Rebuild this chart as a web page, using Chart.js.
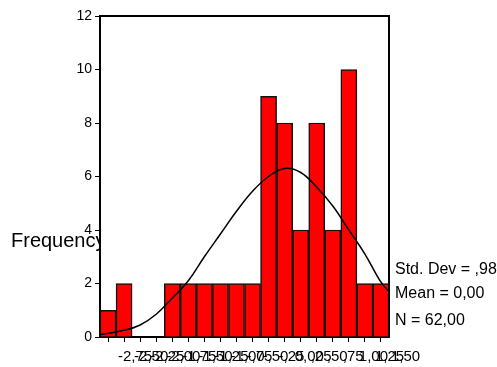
<!DOCTYPE html>
<html>
<head>
<meta charset="utf-8">
<script src="https://cdn.jsdelivr.net/npm/chart.js@4.4.0/dist/chart.umd.min.js"></script>
<style>
  html, body { margin: 0; padding: 0; background: #fff; }
</style>
</head>
<body>
<canvas id="histogram" width="497" height="367"></canvas>
<script>
// Histogram data (bin midpoints as printed by SPSS)
var binLabels = ["-2,75", "-2,50", "-2,25", "-2,00", "-1,75", "-1,50", "-1,25", "-1,00", "-,75",
                 "-,50", "-,25", "0,00", ",25", ",50", ",75", "1,00", "1,25", "1,50"];
var frequencies = [1, 2, 0, 0, 2, 2, 2, 2, 2, 2, 9, 8, 4, 8, 4, 10, 2, 2];

// Normal curve
var curveX = [-2.875, -2.5, -2.25, -2.0, -1.75, -1.5, -1.25, -1.0, -0.75, -0.5,
              -0.25, 0.0, 0.25, 0.5, 0.75, 1.0, 1.25, 1.5, 1.625];
var curveY = [0.08, 0.25, 0.45, 0.85, 1.45, 2.1, 3.0, 3.85, 4.7, 5.45,
              6.0, 6.3, 6.15, 5.6, 4.9, 4.0, 3.1, 2.05, 1.7];

var yAxisTitle = "Frequency";
var statLines = ["Std. Dev = ,98", "Mean = 0,00", "N = 62,00"];

var fontFamily = '"Liberation Sans", Arial, sans-serif';

// extra SPSS bits: box, axis title, stats
var spssExtras = {
    id: "spssExtras",
    afterDraw: function (chart) {
        var ctx = chart.ctx;
        var a = chart.chartArea;
        ctx.save();
        ctx.strokeStyle = "#000";
        ctx.lineWidth = 2;
        ctx.beginPath();
        ctx.moveTo(a.left, a.top);
        ctx.lineTo(a.right, a.top);
        ctx.lineTo(a.right, a.bottom);
        ctx.stroke();

        ctx.fillStyle = "#000";
        ctx.textAlign = "left";
        ctx.textBaseline = "alphabetic";
        ctx.font = "16px " + fontFamily;
        var offs = [63, 39, 12];
        statLines.forEach(function (t, i) {
            ctx.fillText(t, a.right + 6, a.bottom - offs[i]);
        });

        // title is hidden behind the plot frame
        ctx.beginPath();
        ctx.rect(0, 0, a.left - 1, chart.height);
        ctx.clip();
        ctx.font = "20px " + fontFamily;
        ctx.fillText(yAxisTitle, 11, 247);
        ctx.restore();
    }
};

var curvePoints = curveX.map(function (x, i) {
    return { x: x, y: curveY[i] };
});

var chartData = {
    labels: binLabels,
    datasets: [
        {
            type: "line",
            data: curvePoints,
            xAxisID: "xc",
            borderColor: "#000",
            borderWidth: 1.5,
            pointRadius: 0,
            tension: 0.4,
            fill: false,
            order: 0
        },
        {
            type: "bar",
            data: frequencies,
            xAxisID: "x",
            backgroundColor: "#FF0000",
            borderColor: "#111",
            borderWidth: 1.5,
            grouped: false,
            barPercentage: 1,
            categoryPercentage: 1,
            order: 1
        }
    ]
};

var chartOptions = {
    responsive: false,
    animation: false,
    layout: { padding: { top: 16, right: 108, left: 0, bottom: 0 } },
    plugins: { legend: { display: false }, tooltip: { enabled: false } },
    scales: {
        x: {
            type: "category",
            offset: true,
            grid: { offset: false, drawOnChartArea: false, drawTicks: true, tickLength: 5, color: "#000" },
            border: { color: "#000", width: 2 },
            ticks: {
                autoSkip: false, maxRotation: 0, minRotation: 0,
                align: "start", labelOffset: 10, padding: 6,
                color: "#000", font: { family: fontFamily, size: 15 }
            },
            afterFit: function (s) { s.height = 30; }
        },
        xc: { type: "linear", min: -2.875, max: 1.625, offset: false, display: false },
        y: {
            min: 0, max: 12,
            grid: { drawOnChartArea: false, tickLength: 5, color: "#000" },
            border: { color: "#000", width: 2 },
            ticks: { stepSize: 2, padding: 3, color: "#000", font: { family: fontFamily, size: 14 } },
            afterFit: function (s) { s.width = 100; }
        }
    }
};

var ctx = document.getElementById("histogram");
var histogramChart = new Chart(ctx, {
    type: "bar",
    data: chartData,
    options: chartOptions,
    plugins: [spssExtras]
});
</script>
</body>
</html>
